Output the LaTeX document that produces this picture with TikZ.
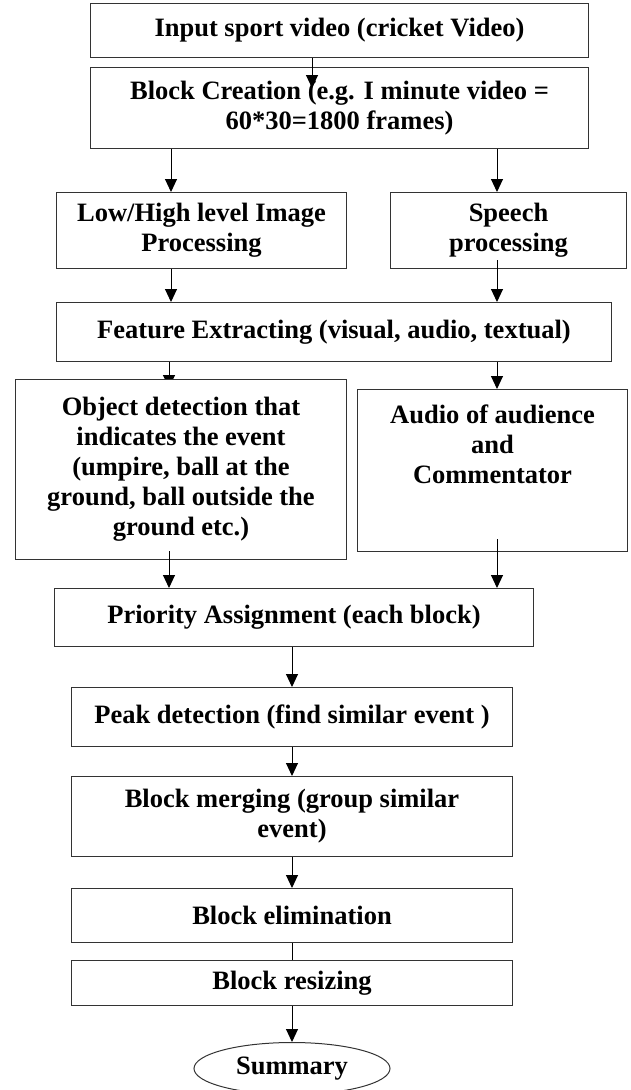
\documentclass[tikz,border=0pt]{standalone}
\usepackage{fontspec}
\setmainfont{Liberation Serif}
\usetikzlibrary{shapes.geometric, arrows.meta, positioning, backgrounds}

\tikzset{
  blk/.style={draw=black!80, line width=1pt, fill=white, align=center, inner sep=0pt,
    font=\bfseries\fontsize{26.5}{30}\selectfont},
  sumry/.style={ellipse, draw=black!80, line width=1pt, fill=white, inner sep=0pt,
    font=\bfseries\fontsize{26.5}{30}\selectfont},
  arr/.style={-{Triangle[length=13pt,width=12pt]}, line width=1pt},
}

\begin{document}
\begin{tikzpicture}[x=1pt, y=-1pt]
\useasboundingbox (0,0) rectangle (631,1090);

% Input and block creation
\node[blk, anchor=north west, minimum width=498pt, minimum height=54pt] (input) at (90,3) {Input sport video (cricket Video)};
\node[blk, below=9pt of input, minimum width=498pt, minimum height=81pt] (create) {Block Creation (e.g. I minute video =\\60*30=1800 frames)};

% Processing
\node[blk, anchor=north west, minimum width=290pt, minimum height=76pt] (image) at (56,192) {Low/High level Image\\Processing};
\node[blk, anchor=north west, minimum width=236pt, minimum height=76pt] (speech) at (390,192) {Speech\\processing};
\node[blk, anchor=north west, minimum width=555pt, minimum height=59pt] (feat) at (56,302) {Feature Extracting (visual, audio, textual)};

% Detection
\node[blk, anchor=north west, minimum width=331pt, minimum height=180pt] (object) at (15,379) {Object detection that\\indicates the event\\(umpire, ball at the\\ground, ball outside the\\ground etc.)};
\node[blk, anchor=north west, minimum width=270pt, minimum height=162pt, text depth=52pt] (audio) at (357,389) {Audio of audience\\and\\Commentator};

% Priority and merging
\node[blk, anchor=north west, minimum width=479pt, minimum height=58pt] (prio) at (54,588) {Priority Assignment (each block)};
\node[blk, below=40pt of prio, xshift=-2pt, minimum width=441pt, minimum height=59pt] (peak) {Peak detection (find similar event )};
\node[blk, below=29pt of peak, minimum width=441pt, minimum height=80pt] (merge) {Block merging (group similar\\event)};
\node[blk, below=31pt of merge, minimum width=441pt, minimum height=54pt] (elim) {Block elimination};
\node[blk, below=17pt of elim, minimum width=441pt, minimum height=45pt] (resize) {Block resizing};
\node[sumry, below=36pt of resize, minimum width=196pt, minimum height=52pt] (summary) {Summary};

% Columns for the arrows
\coordinate (colL) at (171,0);
\coordinate (colO) at (169,0);
\coordinate (colR) at (497,0);
\coordinate (colM) at (312,0);
\coordinate (tip) at (312,88);

% Arrows
\draw[arr] (input.south -| colM) -- (tip);
\draw[arr] (create.south -| colL) -- (image.north -| colL);
\draw[arr] (create.south -| colR) -- (speech.north -| colR);
\draw[arr] (image.south -| colL) -- (feat.north -| colL);
\draw[arr] ([yshift=9pt]speech.south -| colR) -- (feat.north -| colR);
\begin{scope}[on background layer]
\draw[arr] (feat.south -| colO) -- ([yshift=-9pt]object.north -| colO);
\end{scope}
\draw[arr] (feat.south -| colR) -- (audio.north -| colR);
\draw[arr] ([yshift=9pt]object.south -| colO) -- (prio.north -| colO);
\draw[arr] ([yshift=13pt]audio.south -| colR) -- (prio.north -| colR);
\draw[arr] (prio.south -| peak) -- (peak);
\draw[arr] (peak) -- (merge);
\draw[arr] (merge) -- (elim);
\draw[line width=1pt] (elim) -- (resize);
\draw[arr] (resize) -- (summary);

\end{tikzpicture}
\end{document}
